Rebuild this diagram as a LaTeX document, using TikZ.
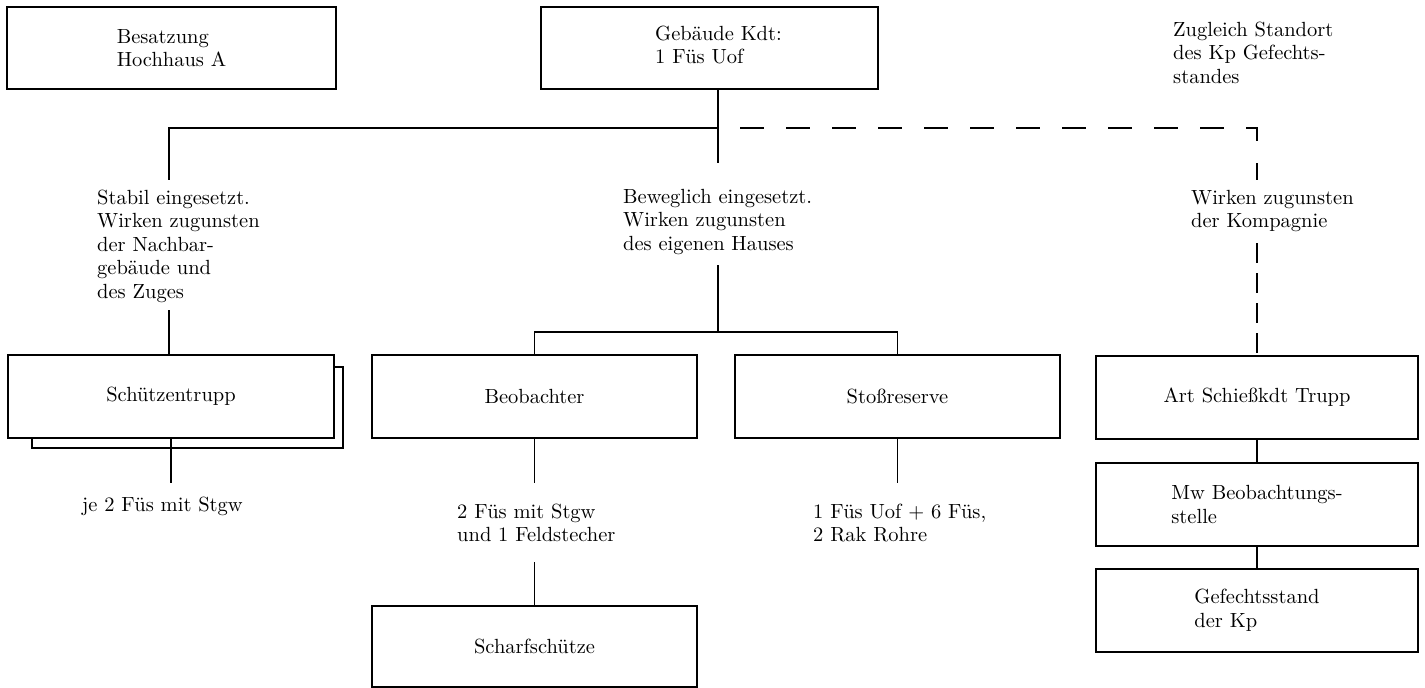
\documentclass[tikz,border=0pt]{standalone}
\usepackage{fontspec}
\setmainfont{lmroman10-regular}[Extension=.otf]
\usetikzlibrary{calc}
\newcommand{\dgfont}{\fontsize{20.5}{23.5}\selectfont}
\tikzset{
  box/.style={draw, line width=1.3pt, fill=white, inner sep=0pt, align=left, font=\dgfont},
  tx/.style={anchor=north west, inner sep=0pt, align=left, font=\dgfont, yshift=16.45pt},
  ln/.style={line width=1.3pt},
  dsh/.style={line width=1.3pt, dash pattern=on 24pt off 22pt, dash phase=24pt},
  dshv/.style={line width=1.3pt, dash pattern=on 20pt off 10pt},
}
\begin{document}
\begin{tikzpicture}[x=1pt,y=-1pt]
\fill[white] (0,0) rectangle (1425,688);
\useasboundingbox (0,0) rectangle (1425,688);

% top boxes
\node[box, minimum width=329pt, minimum height=82pt] (besatz) at (171.5,48) {Besatzung\\Hochhaus A};
\node[box, minimum width=337pt, minimum height=82pt] (geb) at (709.5,48) {};
\node[tx] (gebtx) at (655,40) {\strut Gebäude Kdt:\\1 Füs Uof};
\node[tx] (zugleich) at (1173,36) {\strut Zugleich Standort\\des Kp Gefechts-\\standes};

% junction coordinates
\coordinate (j1) at (718,128);
\coordinate (jl) at (169,128);
\coordinate (jr) at (1257,128);
\coordinate (jlt) at (169,180);
\coordinate (jmt) at (718,163);
\coordinate (jrt) at (1257,180);

% branch texts
\node[tx] (stabil) at (97,204) {\strut Stabil eingesetzt.\\Wirken zugunsten\\der Nachbar-\\gebäude und\\des Zuges};
\node[tx] (bewegl) at (623,203) {\strut Beweglich eingesetzt.\\Wirken zugunsten\\des eigenen Hauses};
\node[tx] (kompagnie) at (1191,204) {\strut Wirken zugunsten\\der Kompagnie};

\coordinate (jlb) at (169,310);
\coordinate (jmb) at (718,265);
\coordinate (jm2) at (718,332);
\coordinate (jrb) at (1257,243);

% second row boxes
\draw[ln, fill=white] (32,367) rectangle (343,448);
\node[box, minimum width=326pt, minimum height=83pt] (schuetz) at (171,396.5) {Schützentrupp};
\node[box, minimum width=325pt, minimum height=83pt] (beob) at (534.5,396.5) {Beobachter};
\node[box, minimum width=325pt, minimum height=83pt] (stoss) at (897.5,396.5) {Stoßreserve};
\node[box, minimum width=322pt, minimum height=83pt] (art) at (1257,397.5) {Art Schießkdt Trupp};
\node[box, minimum width=322pt, minimum height=83pt] (mw) at (1257,504.5) {Mw Beobachtungs-\\stelle};
\node[box, minimum width=322pt, minimum height=83pt] (gef) at (1257,610.5) {Gefechtsstand\\der Kp};
\node[box, minimum width=325pt, minimum height=81pt] (scharf) at (534.5,646.5) {Scharfschütze};

% lower texts
\node[tx] (je) at (82,511) {\strut je 2 Füs mit Stgw};
\node[tx] (fues) at (457,518) {\strut 2 Füs mit Stgw\\und 1 Feldstecher};
\node[tx] (uof) at (813,518) {\strut 1 Füs Uof + 6 Füs,\\2 Rak Rohre};

\coordinate (sl) at (171,483);
\coordinate (bl) at (534.5,483);
\coordinate (bl2) at (534.5,562);
\coordinate (stl) at (897.5,483);

% solid connectors
\draw[ln] (j1 |- geb.south) -- (j1);
\draw[ln] (j1) -- (jl) -- (jlt);
\draw[ln] (j1) -- (jmt);
\draw[ln] (jlb) -- (jlb |- schuetz.north);
\draw[ln] (jmb) -- (jm2);
\draw[ln] (beob.north) |- (jm2) -| (stoss.north);
\draw[ln] (schuetz.south) -- (sl);
\draw[ln] (beob.south) -- (bl);
\draw[ln] (bl2) -- (scharf.north);
\draw[ln] (stoss.south) -- (stl);
\draw[ln] (art.south) -- (mw.north);
\draw[ln] (mw.south) -- (gef.north);

% dashed connectors
\draw[dsh] (j1) -- (jr) -- (jrt);
\draw[dshv] (jrb) -- (jrb |- art.north);
\end{tikzpicture}
\end{document}
